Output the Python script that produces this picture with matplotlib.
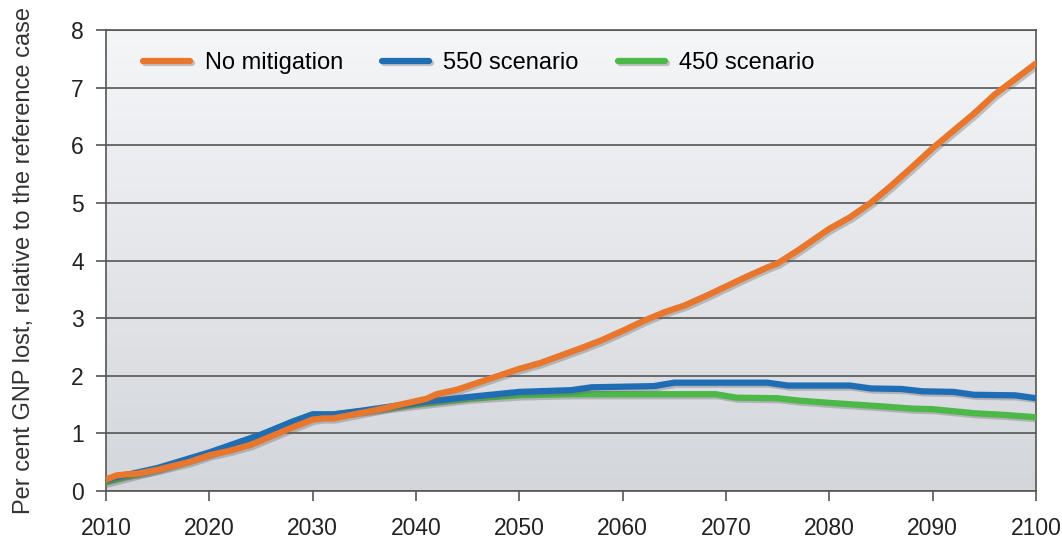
import numpy as np
import matplotlib.pyplot as plt
from matplotlib import patheffects as pe
from matplotlib.colors import LinearSegmentedColormap

plt.rcParams['font.family'] = ['Liberation Sans', 'DejaVu Sans']

# values (per cent GNP lost)
years_none = [2010, 2011, 2012, 2013, 2015, 2018, 2020, 2022, 2024, 2026, 2028, 2030, 2031, 2032,
              2034, 2036, 2038, 2040, 2041, 2042, 2044, 2046, 2048, 2050, 2052, 2054, 2056, 2058,
              2060, 2062, 2064, 2066, 2068, 2070, 2072, 2074, 2075, 2077, 2080, 2082, 2084, 2086,
              2088, 2090, 2092, 2094, 2096, 2098, 2100]
no_mitigation = [0.20, 0.27, 0.29, 0.30, 0.37, 0.50, 0.62, 0.70, 0.80, 0.95, 1.10, 1.24, 1.26, 1.26,
                 1.33, 1.40, 1.48, 1.56, 1.60, 1.68, 1.76, 1.88, 2.00, 2.12, 2.22, 2.35, 2.48, 2.62,
                 2.78, 2.95, 3.10, 3.22, 3.38, 3.55, 3.72, 3.88, 3.95, 4.18, 4.55, 4.75, 5.00, 5.30,
                 5.62, 5.95, 6.25, 6.55, 6.88, 7.15, 7.42]

years_550 = [2010, 2015, 2020, 2025, 2028, 2030, 2032, 2035, 2040, 2045, 2050, 2055, 2057, 2063,
             2065, 2074, 2076, 2082, 2084, 2087, 2089, 2092, 2094, 2098, 2100]
scen_550 = [0.20, 0.40, 0.67, 0.98, 1.20, 1.33, 1.33, 1.40, 1.53, 1.63, 1.72, 1.75, 1.80, 1.82,
            1.88, 1.88, 1.83, 1.83, 1.78, 1.77, 1.73, 1.72, 1.67, 1.66, 1.61]

years_450 = [2010, 2015, 2020, 2025, 2028, 2030, 2032, 2035, 2040, 2045, 2050, 2055, 2060, 2069,
             2071, 2075, 2077, 2080, 2085, 2088, 2090, 2094, 2097, 2100]
scen_450 = [0.15, 0.38, 0.65, 0.97, 1.20, 1.33, 1.33, 1.39, 1.50, 1.60, 1.66, 1.68, 1.68, 1.68,
            1.62, 1.61, 1.57, 1.53, 1.47, 1.43, 1.42, 1.35, 1.32, 1.28]

x_ticks = list(range(2010, 2101, 10))
y_ticks = list(range(0, 9))

fig = plt.figure(figsize=(10.62, 5.42), dpi=100)
ax = fig.add_axes([0.0998, 0.0941, 0.8757, 0.8505])

# soft grey gradient behind the plot
grad = np.linspace(0, 1, 256).reshape(-1, 1)
ax.imshow(grad, extent=[0, 1, 0, 1], transform=ax.transAxes, aspect='auto',
          cmap=LinearSegmentedColormap.from_list('bg', ['#f5f6f8', '#d3d6db']), zorder=0)

shadow = [pe.SimpleLineShadow(offset=(1.5, -1.5), shadow_color='#666666', alpha=0.35), pe.Normal()]
ax.plot(years_450, scen_450, color='#4cb848', lw=4.5, solid_capstyle='round',
        label='450 scenario', zorder=3, path_effects=shadow)
ax.plot(years_550, scen_550, color='#1f6db5', lw=4.5, solid_capstyle='round',
        label='550 scenario', zorder=4, path_effects=shadow)
ax.plot(years_none, no_mitigation, color='#e8762c', lw=4.5, solid_capstyle='round',
        label='No mitigation', zorder=5, path_effects=shadow)

ax.set_xlim(2010, 2100)
ax.set_ylim(0, 8)
ax.set_xticks(x_ticks)
ax.set_yticks(y_ticks)
ax.grid(axis='y', color='#555555', lw=1.2, zorder=1)
ax.set_axisbelow(True)
for s in ax.spines.values():
    s.set_color('#555555')
    s.set_linewidth(1.2)
ax.tick_params(axis='both', colors='#555555', labelcolor='#222222', labelsize=16.5,
               length=7, width=1.2)
ax.tick_params(axis='x', pad=12)
ax.tick_params(axis='y', pad=9)
ax.set_ylabel('Per cent GNP lost, relative to the reference case', fontsize=17,
              color='#333333', labelpad=26)

h, l = ax.get_legend_handles_labels()
ax.legend(h[::-1], l[::-1], loc='center left', bbox_to_anchor=(0.04, 0.928), ncol=3,
          frameon=False, fontsize=17, handlelength=2.0, columnspacing=1.65,
          handletextpad=0.6, borderpad=0, borderaxespad=0)

plt.savefig('out.png', dpi=100)
